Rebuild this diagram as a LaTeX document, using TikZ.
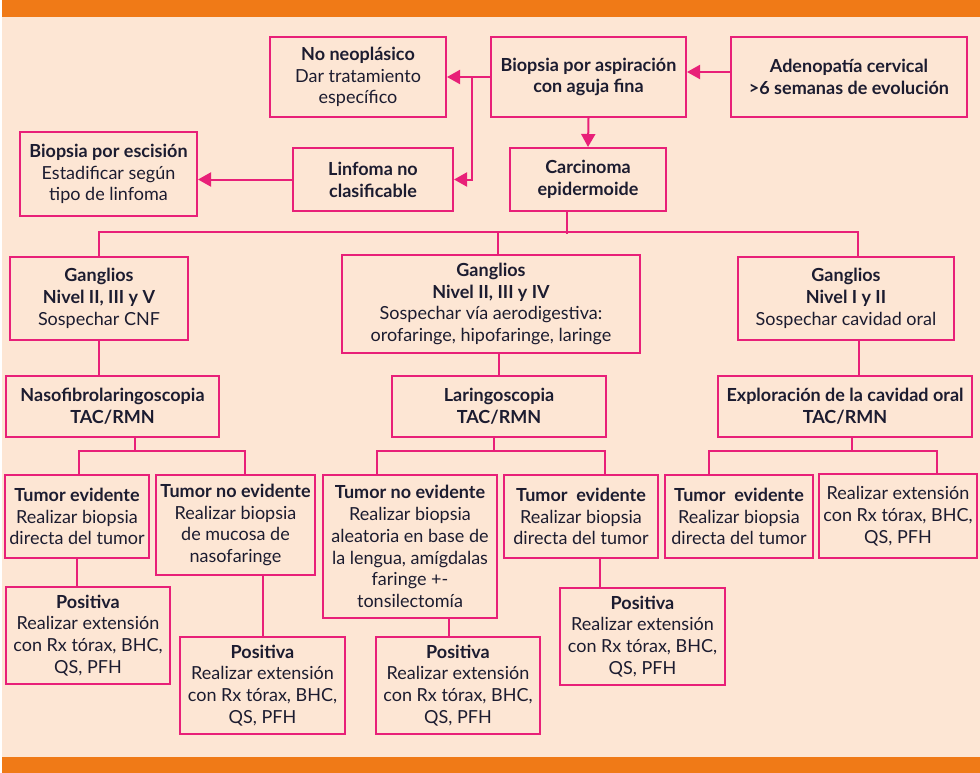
\documentclass[tikz,border=0pt]{standalone}
\usepackage{fontspec}
\setmainfont{Lato}
\usetikzlibrary{arrows.meta,calc,positioning}
\definecolor{barorange}{RGB}{240,122,23}
\definecolor{peach}{RGB}{253,230,212}
\definecolor{boxpink}{RGB}{232,32,120}
\definecolor{inkblue}{RGB}{28,28,48}
\tikzset{
    box/.style={draw=boxpink,
            line width=2pt,
            inner sep=0pt,
            align=center,
            text=inkblue,
            font=\fontsize{18}{21.8}\selectfont},
    link/.style={draw=boxpink, line width=2pt},
    arr/.style={link, -{Triangle[length=13pt,width=14pt]}},
}
\begin{document}
\begin{tikzpicture}[x=1pt,y=-1pt]
% background and bars
\fill[peach] (0,0) rectangle (980,773);
\fill[barorange] (0,0) rectangle (980,17);
\fill[barorange] (0,757) rectangle (980,773);
\fill[white] (0,0) rectangle (1.5,773);
\useasboundingbox (0,0) rectangle (980,773);
% first rows
\node[box, minimum width=176pt, minimum height=80pt] (noneo) at (358,77) {\textbf{No neoplásico}\\Dar tratamiento\\específico};
\node[box, minimum width=195pt, minimum height=80pt] (paaf) at (588.5,77) {\textbf{Biopsia por aspiración}\\\textbf{con aguja fina}};
\node[box, minimum width=236pt, minimum height=80pt] (adeno) at (849,77) {\textbf{Adenopatía cervical}\\\textbf{>6 semanas de evolución}};
\node[box, minimum width=177pt, minimum height=84pt] (escision) at (108.5,174) {\textbf{Biopsia por escisión}\\Estadificar según\\tipo de linfoma};
\node[box, minimum width=160pt, minimum height=63pt] (linfoma) at (373,179.5) {\textbf{Linfoma no}\\\textbf{clasificable}};
\node[box, minimum width=156pt, minimum height=63pt] (carci) at (588,179.5) {\textbf{Carcinoma}\\\textbf{epidermoide}};
\draw[arr] ([yshift=5pt]adeno.west) -- ([yshift=5pt]adeno.west -| paaf.east);
\draw[arr] (paaf.west) -- (noneo.east);
\draw[arr] (paaf.west) ++(-18,0) |- (linfoma.east);
\draw[arr] (linfoma.west) -- (linfoma.west -| escision.east);
\draw[arr] (paaf.south) -- (carci.north);
% ganglios
\node[box, minimum width=178pt, minimum height=83pt] (g1) at (99,298.5) {\textbf{Ganglios}\\\textbf{Nivel II, III y V}\\Sospechar CNF};
\node[box, minimum width=298pt, minimum height=98pt] (g2) at (491,304) {\textbf{Ganglios}\\\textbf{Nivel II, III y IV}\\Sospechar vía aerodigestiva:\\orofaringe, hipofaringe, laringe};
\node[box, minimum width=216pt, minimum height=83pt] (g3) at (846,298.5) {\textbf{Ganglios}\\\textbf{Nivel I y II}\\Sospechar cavidad oral};
\draw[link] ([xshift=-21pt]carci.south) -- ++(0,22);
\draw[link] (g1.north) -- ++(0,-24) -| ([xshift=12pt]g3.north);
\draw[link] ([xshift=7pt]g2.north) -- ++(0,-22);
% exploraciones
\node[box, minimum width=213pt, minimum height=61pt] (naso) at (112.5,406.5) {\textbf{Nasofibrolaringoscopia}\\\textbf{TAC/RMN}};
\node[box, minimum width=214pt, minimum height=61pt] (laringo) at (499,406.5) {\textbf{Laringoscopia}\\\textbf{TAC/RMN}};
\node[box, minimum width=254pt, minimum height=61pt] (explor) at (845,406.5) {\textbf{Exploración de la cavidad oral}\\\textbf{TAC/RMN}};
\draw[link] (g1.south) -- (g1.south |- naso.north);
\draw[link] (laringo.north) -- (laringo.north |- g2.south);
\draw[link] ([xshift=13pt]g3.south) -- ([xshift=13pt]g3.south |- explor.north);
% tumores
\node[box, minimum width=144pt, minimum height=83pt] (te1) at (77,516.5) {\textbf{Tumor evidente}\\Realizar biopsia\\directa del tumor};
\node[box, minimum width=159pt, minimum height=100pt] (tne1) at (235.5,525) {\textbf{Tumor no evidente}\\Realizar biopsia\\de mucosa de\\nasofaringe};
\node[box, minimum width=174pt, minimum height=143pt] (tne2) at (410,546.5) {\textbf{Tumor no evidente}\\Realizar biopsia\\aleatoria en base de\\la lengua, amígdalas\\faringe +-\\tonsilectomía};
\node[box, minimum width=154pt, minimum height=83pt] (te2) at (581,516.5) {\textbf{Tumor\ \ evidente}\\Realizar biopsia\\directa del tumor};
\node[box, minimum width=148pt, minimum height=83pt] (te3) at (739,516.5) {\textbf{Tumor\ \ evidente}\\Realizar biopsia\\directa del tumor};
\node[box, minimum width=158pt, minimum height=84pt] (ext) at (898,516) {Realizar extensión\\con Rx tórax, BHC,\\QS, PFH};
\draw[link] ([xshift=22.5pt]naso.south) -- ++(0,13) coordinate (b1);
\draw[link] ([xshift=2pt]te1.north) |- (b1) -| ([xshift=9.5pt]tne1.north);
\draw[link] ([xshift=-5pt]laringo.south) -- ++(0,13) coordinate (b2);
\draw[link] ([xshift=-33pt]tne2.north) |- (b2) -| ([xshift=24pt]te2.north);
\draw[link] ([xshift=7pt]explor.south) -- ++(0,13) coordinate (b3);
\draw[link] ([xshift=-30pt]te3.north) |- (b3) -| ([xshift=39pt]ext.north);
% positivas
\node[box, minimum width=164pt, minimum height=97pt] (pos1) at (88,635.5) {\textbf{Positiva}\\Realizar extensión\\con Rx tórax, BHC,\\QS, PFH};
\node[box, minimum width=165pt, minimum height=97pt] (pos2) at (262.5,685.5) {\textbf{Positiva}\\Realizar extensión\\con Rx tórax, BHC,\\QS, PFH};
\node[box, minimum width=164pt, minimum height=97pt] (pos3) at (458,685.5) {\textbf{Positiva}\\Realizar extensión\\con Rx tórax, BHC,\\QS, PFH};
\node[box, minimum width=165pt, minimum height=97pt] (pos4) at (642.5,636.5) {\textbf{Positiva}\\Realizar extensión\\con Rx tórax, BHC,\\QS, PFH};
\draw[link] (te1.south) -- (te1.south |- pos1.north);
\draw[link] (pos2.north) -- (pos2.north |- tne1.south);
\draw[link] ([xshift=-9pt]pos3.north) -- ([xshift=-9pt]pos3.north |- tne2.south);
\draw[link] ([xshift=19pt]te2.south) -- ([xshift=19pt]te2.south |- pos4.north);
\end{tikzpicture}
\end{document}
